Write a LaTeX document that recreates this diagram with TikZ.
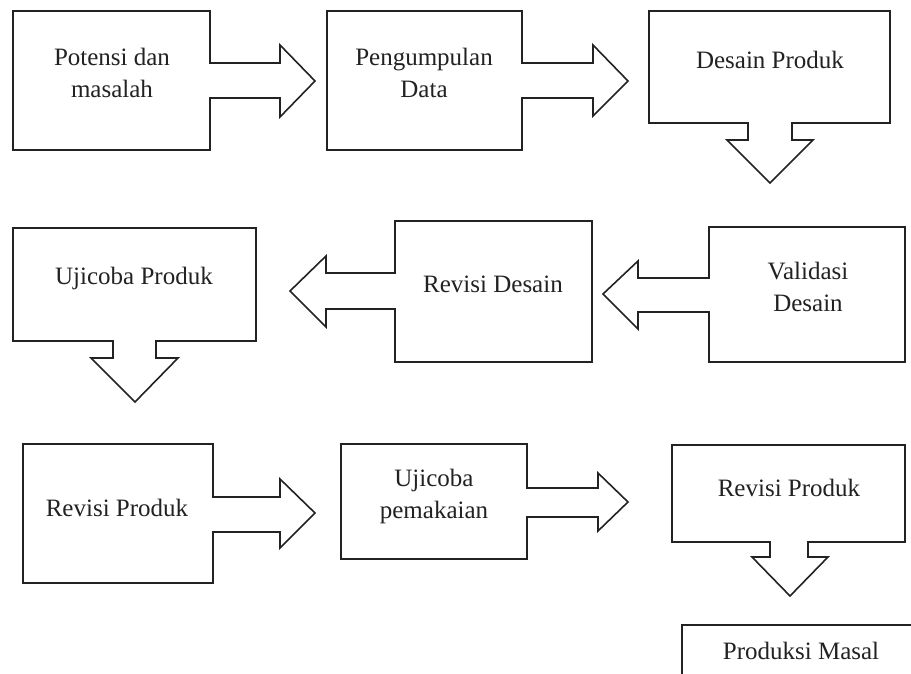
\documentclass[tikz,border=0pt]{standalone}
\usepackage{fontspec}
\setmainfont{Liberation Serif}
\definecolor{ink}{HTML}{222222}
\begin{document}
\begin{tikzpicture}[x=1pt,y=-1pt,
  shapeline/.style={draw=ink,line width=1.6pt,line join=miter,fill=white},
  label/.style={text=ink,align=center,font=\fontsize{25}{32}\selectfont,inner sep=0pt}]
\useasboundingbox (0,0) rectangle (911,674);
\clip (0,0) rectangle (911,674);
% Row 1
\draw[shapeline] (13,11) -- (210,11) -- (210,63) -- (280,63) -- (280,45) -- (315,81) -- (280,117) -- (280,98) -- (210,98) -- (210,150) -- (13,150) -- cycle;
\draw[shapeline] (327,11) -- (522,11) -- (522,63) -- (593,63) -- (593,45) -- (628,81) -- (593,116) -- (593,98) -- (522,98) -- (522,150) -- (327,150) -- cycle;
\draw[shapeline] (649,11) -- (890,11) -- (890,123) -- (792,123) -- (792,140) -- (813,140) -- (770,183) -- (727,140) -- (748,140) -- (748,123) -- (649,123) -- cycle;
% Row 2
\draw[shapeline] (13,228) -- (256,228) -- (256,341) -- (156,341) -- (156,358) -- (178,358) -- (135,402) -- (91,358) -- (113,358) -- (113,341) -- (13,341) -- cycle;
\draw[shapeline] (395,221) -- (592,221) -- (592,362) -- (395,362) -- (395,309) -- (326,309) -- (326,327) -- (290,291) -- (326,256) -- (326,273) -- (395,273) -- cycle;
\draw[shapeline] (709,227) -- (905,227) -- (905,362) -- (709,362) -- (709,312) -- (638,312) -- (638,329) -- (603,294) -- (638,261) -- (638,278) -- (709,278) -- cycle;
% Row 3
\draw[shapeline] (23,444) -- (213,444) -- (213,497) -- (280,497) -- (280,479) -- (315,513) -- (280,548) -- (280,532) -- (213,532) -- (213,583) -- (23,583) -- cycle;
\draw[shapeline] (341,444) -- (527,444) -- (527,488) -- (598,488) -- (598,473) -- (628,502) -- (598,531) -- (598,517) -- (527,517) -- (527,559) -- (341,559) -- cycle;
\draw[shapeline] (672,445) -- (905,445) -- (905,542) -- (808,542) -- (808,557) -- (828,557) -- (790,596) -- (752,557) -- (770,557) -- (770,542) -- (672,542) -- cycle;
\draw[shapeline] (682,690) -- (682,625) -- (930,625) -- (930,690);
% Labels
\node[label] (t1) at (112,73) {Potensi dan\\masalah};
\node[label] (t2) at (424,73) {Pengumpulan\\Data};
\node[label] (t3) at (770,60) {Desain Produk};
\node[label] (t4) at (134,278) {Ujicoba Produk};
\node[label] (t5) at (493,284) {Revisi Desain};
\node[label] (t6) at (808,287) {Validasi\\Desain};
\node[label] (t7) at (117,508) {Revisi Produk};
\node[label] (t8) at (434,496) {Ujicoba\\pemakaian};
\node[label] (t9) at (789,488) {Revisi Produk};
\node[label] (t10) at (801,651) {Produksi Masal};
\end{tikzpicture}
\end{document}
